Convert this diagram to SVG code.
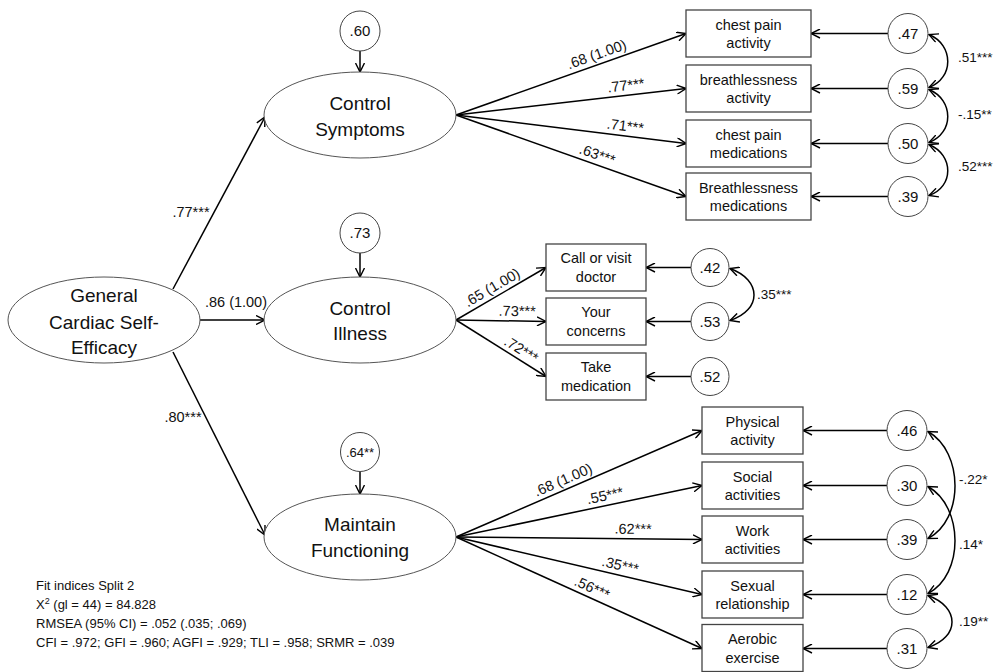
<svg xmlns="http://www.w3.org/2000/svg" width="1001" height="672" viewBox="0 0 1001 672">
<defs>
<marker id="ah" viewBox="0 0 10 10" refX="9.5" refY="5" markerWidth="10" markerHeight="10" markerUnits="userSpaceOnUse" orient="auto-start-reverse">
<path d="M0.5,0.5 L9.5,5 L0.5,9.5" fill="none" stroke="#000" stroke-width="1.4"/>
</marker>
<style>
text{font-family:"Liberation Sans",Arial,sans-serif;fill:#111;text-anchor:middle}
.lat ellipse{fill:#fff;stroke:#555;stroke-width:1}
.lat text{font-size:19px}
.box rect{fill:#fff;stroke:#444;stroke-width:1.3}
.box text{font-size:14.5px}
.err circle{fill:#fff;stroke:#444;stroke-width:1}
.err text{font-size:15px}
.ln{stroke:#000;stroke-width:1.5;fill:none;marker-end:url(#ah)}
.cov{stroke:#000;stroke-width:1.5;fill:none;marker-start:url(#ah);marker-end:url(#ah)}
.pl{font-size:14.5px}
.cl{font-size:13.5px;text-anchor:start}
.fit{font-size:13px;text-anchor:start}
</style>
</defs>
<rect width="1001" height="672" fill="#fff"/>

<g id="connectors">
<path class="ln" d="M173,289 L265,117"/>
<path class="ln" d="M200,320 L265,320"/>
<path class="ln" d="M173,352 L265,535"/>
<path class="ln" d="M360,51 L360,72"/>
<path class="ln" d="M360,253 L360,277"/>
<path class="ln" d="M360,472 L360,494"/>
<path class="ln" d="M456,115 L686,33.5"/>
<path class="ln" d="M456,115 L686,88.5"/>
<path class="ln" d="M456,115 L686,143.5"/>
<path class="ln" d="M456,115 L686,196.5"/>
<path class="ln" d="M888,33.5 L811,33.5"/>
<path class="ln" d="M888,88.5 L811,88.5"/>
<path class="ln" d="M888,143.5 L811,143.5"/>
<path class="ln" d="M888,196.5 L811,196.5"/>
<path class="ln" d="M456,320 L546,267.5"/>
<path class="ln" d="M456,320 L546,321.5"/>
<path class="ln" d="M456,320 L546,376.5"/>
<path class="ln" d="M691,267.5 L646,267.5"/>
<path class="ln" d="M691,321.5 L646,321.5"/>
<path class="ln" d="M691,376.5 L646,376.5"/>
<path class="ln" d="M456,537 L702,430.5"/>
<path class="ln" d="M456,537 L702,485.5"/>
<path class="ln" d="M456,537 L702,539.5"/>
<path class="ln" d="M456,537 L702,594.5"/>
<path class="ln" d="M456,537 L702,648.5"/>
<path class="ln" d="M887,430.5 L803,430.5"/>
<path class="ln" d="M887,485.5 L803,485.5"/>
<path class="ln" d="M887,539.5 L803,539.5"/>
<path class="ln" d="M887,594.5 L803,594.5"/>
<path class="ln" d="M887,648.5 L803,648.5"/>
<path class="cov" d="M929,34.5 C954,45 954,78 929,87.5"/>
<path class="cov" d="M929,89.5 C954,100 954,133 929,142.5"/>
<path class="cov" d="M929,144.5 C954,155 954,187 929,195.5"/>
<path class="cov" d="M730,268.5 C762,280 762,310 730,320.5"/>
<path class="cov" d="M928,431.5 C964,452 964,520 928,538.5"/>
<path class="cov" d="M928,486.5 C964,507 964,575 928,593.5"/>
<path class="cov" d="M928,595.5 C960,607 960,637 928,647.5"/>
<text class="pl" x="191" y="217">.77***</text>
<text class="pl" x="236" y="307">.86 (1.00)</text>
<text class="pl" x="183" y="422">.80***</text>
<text class="pl" transform="translate(600,63.7) rotate(-19.6)" y="-5">.68 (1.00)</text>
<text class="pl" transform="translate(627,95.3) rotate(-6.6)" y="-5">.77***</text>
<text class="pl" transform="translate(624,135.8) rotate(7.1)" y="-5">.71***</text>
<text class="pl" transform="translate(594,163.9) rotate(19.5)" y="-5">.63***</text>
<text class="pl" transform="translate(497,296.1) rotate(-30.3)" y="-5">.65 (1.00)</text>
<text class="pl" transform="translate(517,321) rotate(0.9)" y="-5">.73***</text>
<text class="pl" transform="translate(516,358) rotate(32.1)" y="-5">.72***</text>
<text class="pl" transform="translate(567,489) rotate(-23.4)" y="-5">.68 (1.00)</text>
<text class="pl" transform="translate(607,505.4) rotate(-11.8)" y="-5">.55***</text>
<text class="pl" transform="translate(633,538.8) rotate(0.6)" y="-5">.62***</text>
<text class="pl" transform="translate(618,574.9) rotate(13.2)" y="-5">.35***</text>
<text class="pl" transform="translate(588,596.9) rotate(24.4)" y="-5">.56***</text>
<text class="cl" x="958" y="62">.51***</text>
<text class="cl" x="958" y="119">-.15**</text>
<text class="cl" x="958" y="171">.52***</text>
<text class="cl" x="757" y="299">.35***</text>
<text class="cl" x="959" y="484">-.22*</text>
<text class="cl" x="959" y="549">.14*</text>
<text class="cl" x="959" y="626">.19**</text>
</g>

<g id="gcse" class="lat"><ellipse cx="104" cy="320" rx="96" ry="43"/>
<text x="104" y="302">General</text><text x="104" y="329">Cardiac Self-</text><text x="104" y="354">Efficacy</text></g>
<g id="cs" class="lat"><ellipse cx="360" cy="115" rx="96" ry="43"/>
<text x="360" y="110">Control</text><text x="360" y="136">Symptoms</text></g>
<g id="ci" class="lat"><ellipse cx="360" cy="320" rx="96" ry="43"/>
<text x="360" y="315">Control</text><text x="360" y="340">Illness</text></g>
<g id="mf" class="lat"><ellipse cx="360" cy="537" rx="96" ry="43"/>
<text x="360" y="531">Maintain</text><text x="360" y="557">Functioning</text></g>

<g id="e_cs" class="err"><circle cx="360" cy="31" r="20"/><text x="360" y="36">.60</text></g>
<g id="e_ci" class="err"><circle cx="360" cy="233" r="20"/><text x="360" y="238">.73</text></g>
<g id="e_mf" class="err"><circle cx="360" cy="452" r="19.5"/><text x="360" y="457" style="font-size:13px">.64**</text></g>

<g id="b_cpa" class="box"><rect x="686" y="10" width="125" height="47"/><text x="748.5" y="29.5">chest pain</text><text x="748.5" y="48">activity</text></g>
<g id="b_ba" class="box"><rect x="686" y="65" width="125" height="47"/><text x="748.5" y="84.5">breathlessness</text><text x="748.5" y="103">activity</text></g>
<g id="b_cpm" class="box"><rect x="686" y="120" width="125" height="47"/><text x="748.5" y="139.5">chest pain</text><text x="748.5" y="158">medications</text></g>
<g id="b_bm" class="box"><rect x="686" y="173" width="125" height="47"/><text x="748.5" y="192.5">Breathlessness</text><text x="748.5" y="211">medications</text></g>

<g id="e_cpa" class="err"><circle cx="908" cy="33.5" r="20"/><text x="908" y="38.5">.47</text></g>
<g id="e_ba" class="err"><circle cx="908" cy="88.5" r="20"/><text x="908" y="93.5">.59</text></g>
<g id="e_cpm" class="err"><circle cx="908" cy="143.5" r="20"/><text x="908" y="148.5">.50</text></g>
<g id="e_bm" class="err"><circle cx="908" cy="196.5" r="20"/><text x="908" y="201.5">.39</text></g>

<g id="b_doc" class="box"><rect x="546" y="244" width="100" height="47"/><text x="596" y="262.5">Call or visit</text><text x="596" y="282">doctor</text></g>
<g id="b_conc" class="box"><rect x="546" y="298" width="100" height="47"/><text x="596" y="316.5">Your</text><text x="596" y="336">concerns</text></g>
<g id="b_med" class="box"><rect x="546" y="353" width="100" height="47"/><text x="596" y="371.5">Take</text><text x="596" y="391">medication</text></g>

<g id="e_doc" class="err"><circle cx="710" cy="267.5" r="19"/><text x="710" y="272.5">.42</text></g>
<g id="e_conc" class="err"><circle cx="710" cy="321.5" r="19"/><text x="710" y="326.5">.53</text></g>
<g id="e_med" class="err"><circle cx="710" cy="376.5" r="19"/><text x="710" y="381.5">.52</text></g>

<g id="b_phys" class="box"><rect x="702" y="407" width="101" height="47"/><text x="752.5" y="426.5">Physical</text><text x="752.5" y="445">activity</text></g>
<g id="b_soc" class="box"><rect x="702" y="462" width="101" height="47"/><text x="752.5" y="481.5">Social</text><text x="752.5" y="500">activities</text></g>
<g id="b_work" class="box"><rect x="702" y="516" width="101" height="47"/><text x="752.5" y="535.5">Work</text><text x="752.5" y="554">activities</text></g>
<g id="b_sex" class="box"><rect x="702" y="571" width="101" height="47"/><text x="752.5" y="590.5">Sexual</text><text x="752.5" y="609">relationship</text></g>
<g id="b_aer" class="box"><rect x="702" y="624.5" width="101" height="47"/><text x="752.5" y="644">Aerobic</text><text x="752.5" y="662.5">exercise</text></g>

<g id="e_phys" class="err"><circle cx="907" cy="430.5" r="20"/><text x="907" y="435.5">.46</text></g>
<g id="e_soc" class="err"><circle cx="907" cy="485.5" r="20"/><text x="907" y="490.5">.30</text></g>
<g id="e_work" class="err"><circle cx="907" cy="539.5" r="20"/><text x="907" y="544.5">.39</text></g>
<g id="e_sex" class="err"><circle cx="907" cy="594.5" r="20"/><text x="907" y="599.5">.12</text></g>
<g id="e_aer" class="err"><circle cx="907" cy="648.5" r="20"/><text x="907" y="653.5">.31</text></g>

<g id="fit">
<text class="fit" x="36" y="590">Fit indices Split 2</text>
<text class="fit" x="36" y="609">X<tspan font-size="9" dy="-5">2</tspan><tspan dy="5"> (gl = 44) = 84.828</tspan></text>
<text class="fit" x="36" y="628">RMSEA (95% CI) = .052 (.035; .069)</text>
<text class="fit" x="36" y="647">CFI = .972; GFI = .960; AGFI = .929; TLI = .958; SRMR = .039</text>
</g>
</svg>
